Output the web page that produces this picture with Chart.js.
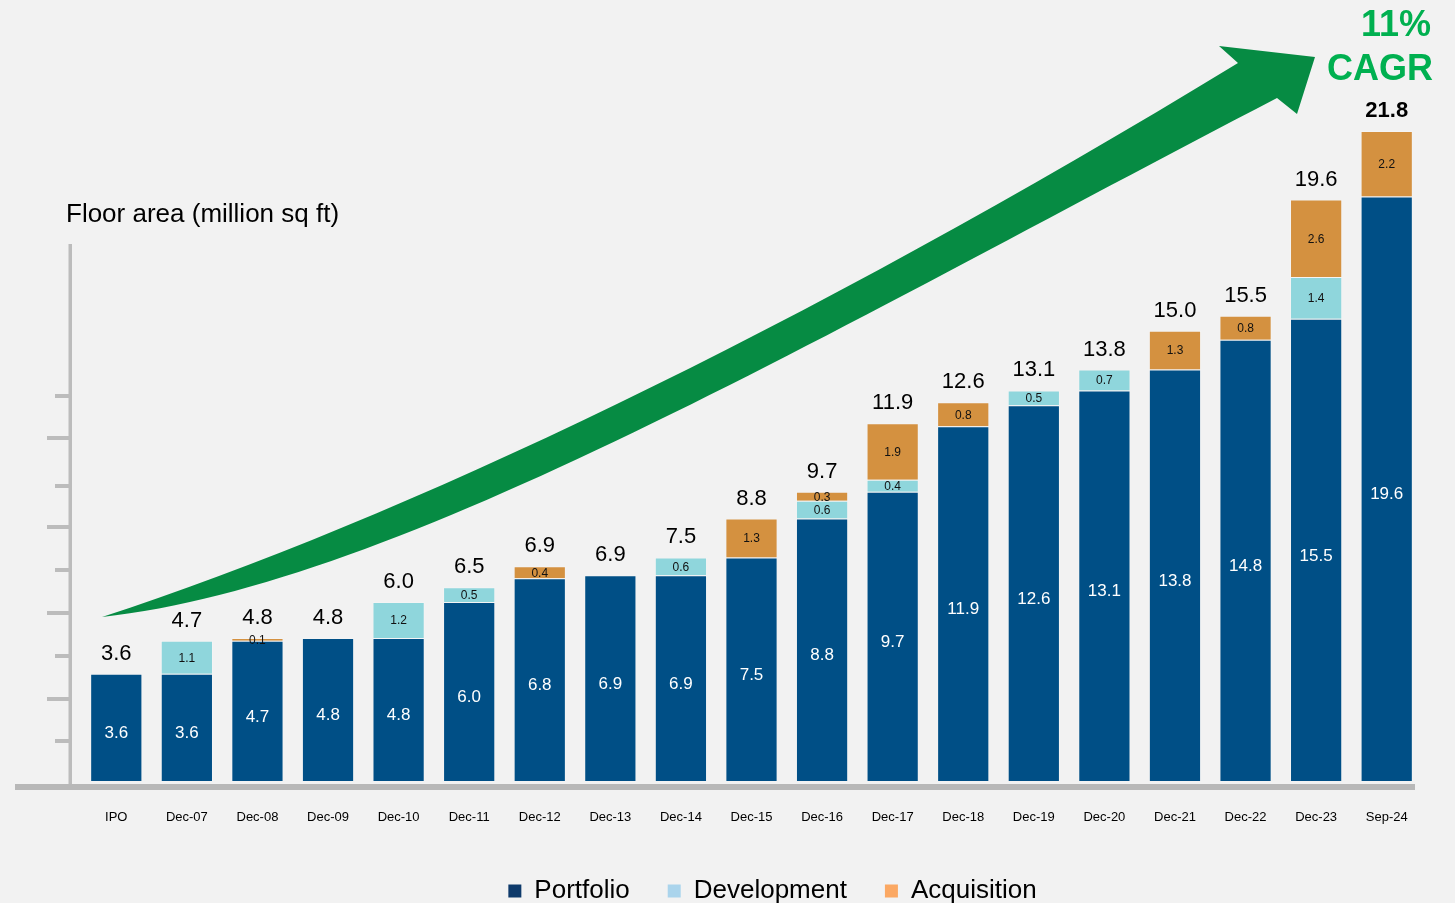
<!DOCTYPE html>
<html><head><meta charset="utf-8">
<script src="https://cdn.jsdelivr.net/npm/chart.js@4.4.1/dist/chart.umd.min.js"></script>
<style>
html,body{margin:0;padding:0;background:#f2f2f2;overflow:hidden}
canvas{display:block}
</style></head><body>
<canvas id="c" width="1455" height="903"></canvas>
<script>
// ---------- data ----------
const categories = ['IPO','Dec-07','Dec-08','Dec-09','Dec-10','Dec-11','Dec-12','Dec-13','Dec-14','Dec-15','Dec-16','Dec-17','Dec-18','Dec-19','Dec-20','Dec-21','Dec-22','Dec-23','Sep-24'];
const portfolio   = [3.6, 3.6, 4.7, 4.8, 4.8, 6.0, 6.8, 6.9, 6.9, 7.5, 8.8, 9.7, 11.9, 12.6, 13.1, 13.8, 14.8, 15.5, 19.6];
const development = [null, 1.1, null, null, 1.2, 0.5, null, null, 0.6, null, 0.6, 0.4, null, 0.5, 0.7, null, null, 1.4, null];
const acquisition = [null, null, 0.1, null, null, null, 0.4, null, null, 1.3, 0.3, 1.9, 0.8, null, null, 1.3, 0.8, 2.6, 2.2];
const totalLabels = ['3.6','4.7','4.8','4.8','6.0','6.5','6.9','6.9','7.5','8.8','9.7','11.9','12.6','13.1','13.8','15.0','15.5','19.6','21.8'];
const seriesNames = ['Portfolio','Development','Acquisition'];
const axisTitle = 'Floor area (million sq ft)';
const cagrText = ['11%','CAGR'];

// ---------- styles ----------
const FONT = "'Liberation Sans', Arial, sans-serif";
const barColors = ['#004f86', '#8fd6dc', '#d49140'];
const legendColors = ['#0e3a6b', '#aad4ec', '#fba863'];
const AXIS_GREY = '#bcbcbc';

const decorPlugin = {
  id: 'decor',
  afterLayout(chart) {
    const lg = chart.legend;
    if (lg) { lg.left += 21; lg.right += 21; lg.top += 11; lg.bottom += 11; }
  },
  beforeDatasetsDraw(chart) {
    const {ctx, chartArea: ca} = chart;
    ctx.save();
    // vertical axis line
    ctx.fillStyle = AXIS_GREY;
    ctx.fillRect(ca.left - 12.5, ca.top + 113, 3.5, ca.bottom + 6 - (ca.top + 113));
    // tick marks
    const offs = [40, 82, 125, 168, 211, 254, 295, 343, 385];
    offs.forEach((o, i) => {
      const long = (i % 2 === 1);
      const x0 = long ? ca.left - 34 : ca.left - 26;
      ctx.fillRect(x0, ca.bottom - o - 2, (ca.left - 9) - x0, 4);
    });
    // baseline
    ctx.fillStyle = '#b8b8b8';
    ctx.fillRect(15, ca.bottom + 3, 1400, 6);

    // growth arrow
    ctx.fillStyle = '#068b43';
    ctx.beginPath();
    ctx.moveTo(102, 617);
    ctx.bezierCurveTo(400, 520, 800, 330, 1238, 63);
    ctx.lineTo(1219, 46);
    ctx.lineTo(1315, 57);
    ctx.lineTo(1297, 114);
    ctx.lineTo(1277, 98);
    ctx.bezierCurveTo(830, 330, 400, 585, 102, 617);
    ctx.closePath();
    ctx.fill();

    // axis title
    ctx.fillStyle = '#000';
    ctx.font = '26px ' + FONT;
    ctx.textAlign = 'left';
    ctx.textBaseline = 'alphabetic';
    ctx.fillText(axisTitle, 66, 222);

    // CAGR
    ctx.fillStyle = '#00b050';
    ctx.font = 'bold 36px ' + FONT;
    ctx.textAlign = 'right';
    ctx.fillText(cagrText[0], 1431, 36);
    ctx.fillText(cagrText[1], 1433, 80);
    ctx.restore();
  },
  afterDatasetsDraw(chart) {
    const ctx = chart.ctx;
    ctx.save();
    ctx.textAlign = 'center';
    ctx.textBaseline = 'middle';
    chart.data.datasets.forEach((ds, di) => {
      const meta = chart.getDatasetMeta(di);
      meta.data.forEach((el, i) => {
        const v = ds.data[i];
        if (v == null) return;
        const {x, y, base} = el.getProps(['x', 'y', 'base'], true);
        if (di === 0) { ctx.fillStyle = '#ffffff'; ctx.font = '17px ' + FONT; }
        else { ctx.fillStyle = '#111111'; ctx.font = '12px ' + FONT; }
        ctx.fillText(v.toFixed(1), x, (y + base) / 2 + (di === 0 ? 6 : 1));
      });
    });
    const n = categories.length;
    for (let i = 0; i < n; i++) {
      let top = Infinity, x = 0;
      chart.data.datasets.forEach((ds, di) => {
        if (ds.data[i] != null) {
          const el = chart.getDatasetMeta(di).data[i];
          top = Math.min(top, el.y); x = el.x;
        }
      });
      ctx.fillStyle = '#000';
      ctx.font = (i === n - 1 ? 'bold ' : '') + '22px ' + FONT;
      ctx.fillText(totalLabels[i], x, top - 20);
    }
    ctx.restore();
  }
};

const mk = (label, data, i) => ({
  label, data,
  backgroundColor: barColors[i],
  borderColor: 'rgba(255,255,255,0.18)',
  borderWidth: 1,
  borderSkipped: 'start',
  barPercentage: 0.74,
  categoryPercentage: 1.0
});

new Chart(document.getElementById('c'), {
  type: 'bar',
  data: {
    labels: categories,
    datasets: [
      mk(seriesNames[0], portfolio, 0),
      mk(seriesNames[1], development, 1),
      mk(seriesNames[2], acquisition, 2)
    ]
  },
  options: {
    responsive: false,
    animation: false,
    devicePixelRatio: 1,
    layout: { padding: { left: 81, right: 33, top: 131, bottom: 0 } },
    scales: {
      x: {
        stacked: true,
        grid: { display: false, drawTicks: false },
        border: { display: false },
        ticks: { color: '#000', font: { family: FONT, size: 13 }, padding: 29, maxRotation: 0, autoSkip: false },
        afterFit(s) { s.height = 48; }
      },
      y: {
        stacked: true,
        display: false,
        min: 0,
        max: 21.8
      }
    },
    plugins: {
      legend: {
        position: 'bottom',
        labels: {
          boxWidth: 13, boxHeight: 13, padding: 38, color: '#000',
          font: { family: FONT, size: 26 },
          generateLabels: () => seriesNames.map((t, i) => ({
            text: t, fillStyle: legendColors[i], strokeStyle: legendColors[i],
            lineWidth: 0, hidden: false, datasetIndex: i
          }))
        }
      },
      tooltip: { enabled: false }
    }
  },
  plugins: [decorPlugin]
});
</script>
</body></html>
